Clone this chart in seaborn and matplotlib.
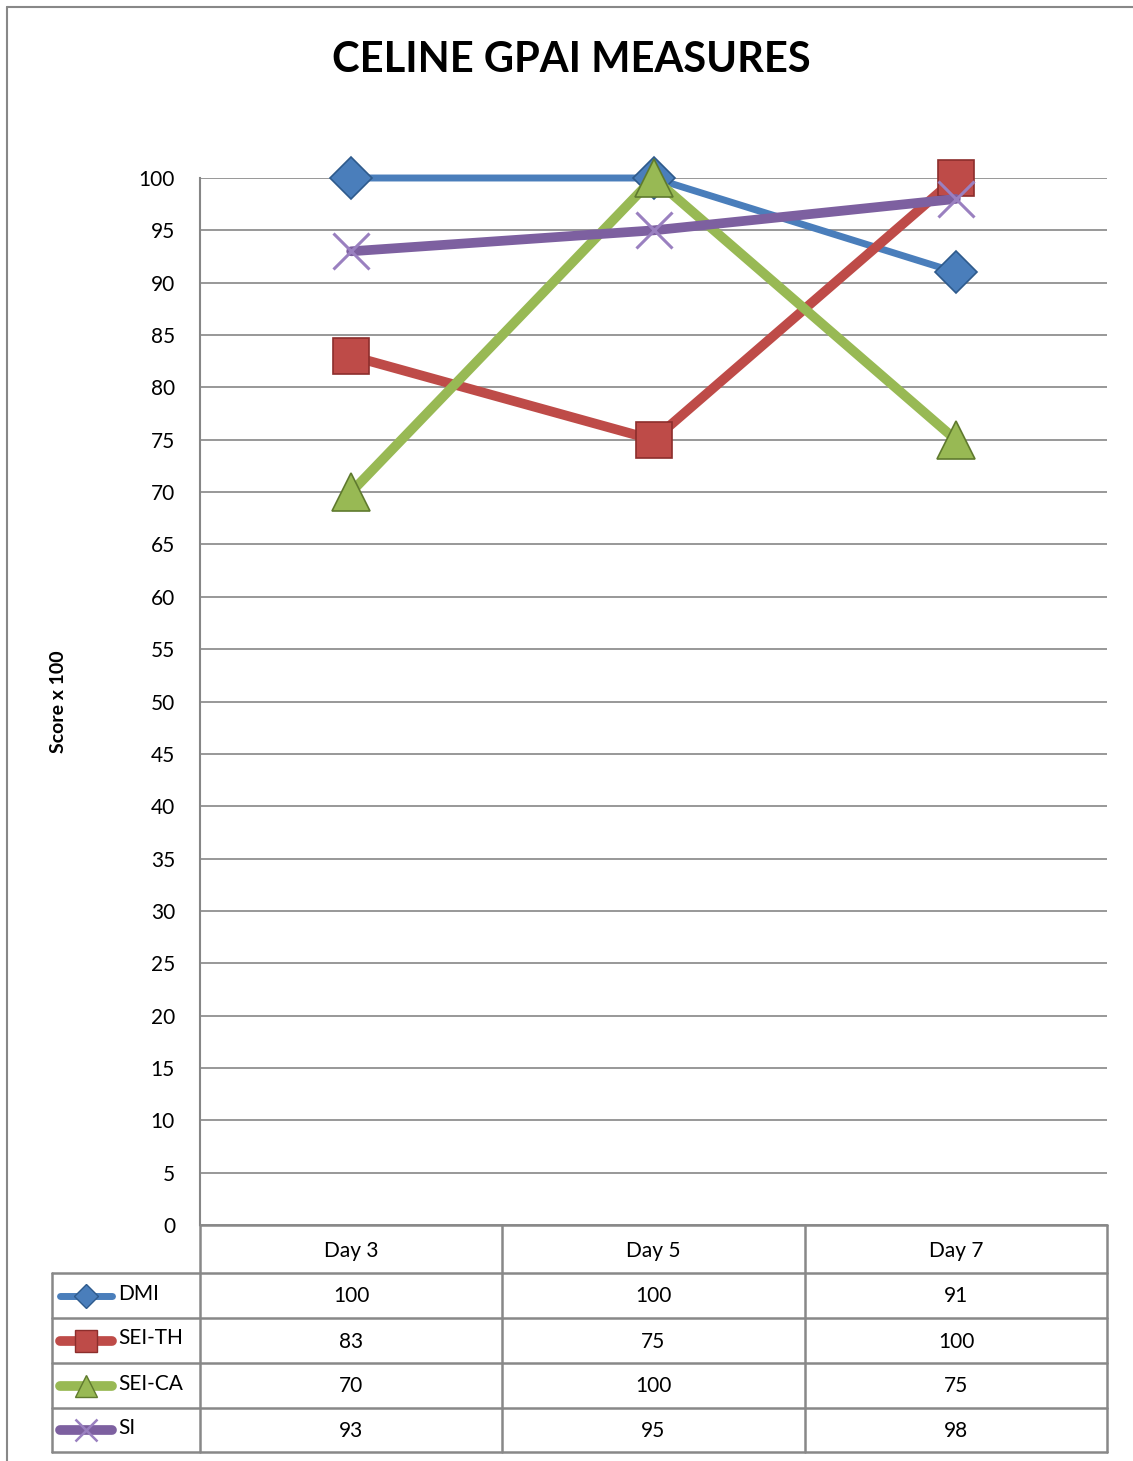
import numpy as np
import pandas as pd
import matplotlib
matplotlib.use("Agg")
import matplotlib.pyplot as plt
from matplotlib.lines import Line2D
import seaborn as sns

# datos del grafico
days = ["Day 3", "Day 5", "Day 7"]
series = ["DMI", "SEI-TH", "SEI-CA", "SI"]
dmi = [100, 100, 91]
sei_th = [83, 75, 100]
sei_ca = [70, 100, 75]
si = [93, 95, 98]
y_ticks = list(range(0, 101, 5))

values = {"DMI": dmi, "SEI-TH": sei_th, "SEI-CA": sei_ca, "SI": si}
colors = {"DMI": "#4A7EBB", "SEI-TH": "#BE4B48", "SEI-CA": "#98B954", "SI": "#7D60A0"}
edges = {"DMI": "#2E5A8C", "SEI-TH": "#8C2E2C", "SEI-CA": "#5F7A2E", "SI": "#9A80C0"}
markers = {"DMI": "D", "SEI-TH": "s", "SEI-CA": "^", "SI": "x"}
msizes = {"DMI": 21, "SEI-TH": 26, "SEI-CA": 27, "SI": 26}
lwidths = {"DMI": 5, "SEI-TH": 7, "SEI-CA": 7, "SI": 7}

df = pd.DataFrame([(s, d, v) for s in series for d, v in zip(days, values[s])],
                  columns=["series", "day", "value"])
df["pos"] = df["day"].map({d: i for i, d in enumerate(days)})

sns.set_theme(style="white")
plt.rcParams["font.family"] = ["Lato", "DejaVu Sans"]
plt.rcParams["text.color"] = "black"
plt.rcParams["ytick.color"] = "black"

W, H = 1133, 1461
fig = plt.figure(figsize=(W / 100, H / 100), dpi=100)

def fx(px):
    return px / W

def fy(py):
    return 1 - py / H

# borde del grafico
fig.add_artist(Line2D([fx(7), fx(7)], [fy(7), fy(1461)], color="#888888", lw=1.5))
fig.add_artist(Line2D([fx(7), fx(1133)], [fy(7), fy(7)], color="#888888", lw=1.5))

ax = fig.add_axes([fx(200), fy(1225), fx(1107) - fx(200), fy(178) - fy(1225)])
ax.set_axisbelow(True)
ax.yaxis.grid(True, color="#868686", lw=1.2)
ax.xaxis.grid(False)

for s in series:
    sub = df[df["series"] == s]
    sns.lineplot(data=sub, x="pos", y="value", ax=ax, color=colors[s],
                 lw=lwidths[s], marker=markers[s], markersize=msizes[s],
                 markerfacecolor=colors[s] if s != "SI" else "none",
                 markeredgecolor=edges[s], markeredgewidth=1.2 if s != "SI" else 2.2,
                 sort=False, legend=False, zorder=3)
for ln in ax.lines:
    ln.set_clip_on(False)

ax.set_xlim(-0.5, 2.5)
ax.set_ylim(0, 100)
ax.set_yticks(y_ticks)
ax.set_yticklabels([str(t) for t in y_ticks], fontsize=15)
ax.tick_params(axis="y", length=0, pad=18)
ax.set_xticks([])
ax.set_xlabel("")
ax.set_ylabel("")
for side in ["top", "right", "bottom"]:
    ax.spines[side].set_visible(False)
ax.spines["left"].set_color("#868686")
ax.spines["left"].set_linewidth(1.5)

fig.text(fx(58), fy(702), "Score x 100", rotation=90, ha="center", va="center",
         fontsize=14, fontweight="bold")
fig.text(fx(571), fy(60), "CELINE GPAI MEASURES", ha="center", va="center",
         fontsize=30, fontweight="bold")

# tabla de datos
tax = fig.add_axes([fx(52), fy(1452), fx(1107) - fx(52), fy(1225) - fy(1452)])
tax.set_xlim(52, 1107)
tax.set_ylim(1452, 1225)
tax.axis("off")
gcol = "#888888"
col_x = [200, 502, 805, 1107]
row_y = [1225, 1273, 1318, 1363, 1408, 1452]
for x in col_x:
    tax.plot([x, x], [row_y[0], row_y[-1]], color=gcol, lw=1.8, clip_on=False)
tax.plot([52, 52], [row_y[1], row_y[-1]], color=gcol, lw=1.8, clip_on=False)
tax.plot([200, 1107], [row_y[0], row_y[0]], color=gcol, lw=1.8, clip_on=False)
for y in row_y[1:]:
    tax.plot([52, 1107], [y, y], color=gcol, lw=1.8, clip_on=False)

for j, d in enumerate(days):
    cx = (col_x[j] + col_x[j + 1]) / 2
    tax.text(cx, (row_y[0] + row_y[1]) / 2 + 2, d, ha="center", va="center", fontsize=15)
for i, s in enumerate(series):
    cy = (row_y[i + 1] + row_y[i + 2]) / 2
    tax.plot([60, 112], [cy, cy], color=colors[s], lw=lwidths[s], solid_capstyle="round")
    tax.plot([86], [cy], marker=markers[s], markersize=msizes[s] * 0.6,
             markerfacecolor=colors[s] if s != "SI" else "none",
             markeredgecolor=edges[s], markeredgewidth=1.0 if s != "SI" else 1.8)
    tax.text(118, cy - 2, s, ha="left", va="center", fontsize=15)
    for j, v in enumerate(values[s]):
        cx = (col_x[j] + col_x[j + 1]) / 2
        tax.text(cx, cy + 1, str(v), ha="center", va="center", fontsize=15)

fig.savefig("out.png", dpi=100, facecolor="white")
